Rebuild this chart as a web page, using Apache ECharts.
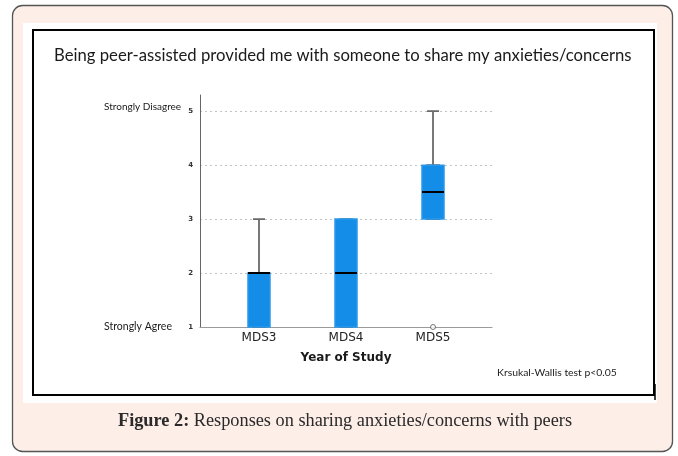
<!DOCTYPE html>
<html>
<head>
<meta charset="utf-8">
<script src="https://cdn.jsdelivr.net/npm/echarts@6/dist/echarts.min.js"></script>
<style>
html,body{margin:0;padding:0;background:#fff;}
#chart{width:678px;height:456px;}
</style>
</head>
<body>
<div id="chart"></div>
<script>
// ---- data ----
const chartTitle = 'Being peer-assisted provided me with someone to share my anxieties/concerns';
const categories = ['MDS3', 'MDS4', 'MDS5'];
const minVals    = [1, 1, 3];
const q1Vals     = [1, 1, 3];
const medianVals = [2, 2, 3.5];
const q3Vals     = [2, 3, 4];
const maxVals    = [3, 3, 5];
const outlierCats = ['MDS5'];
const outlierVals = [1];
const yTicks = [1, 2, 3, 4, 5];
const yEndLabels = { 1: 'Strongly Agree', 5: 'Strongly Disagree' };
const xAxisName = 'Year of Study';
const noteText = 'Krsukal-Wallis test p<0.05';
const captionBold = 'Figure 2:';
const captionText = 'Responses on sharing anxieties/concerns with peers';

// positions of categories on the value x-axis (1-based)
const pos = c => categories.indexOf(c) + 1;
const xPositions = categories.map((c) => pos(c));

const whiskerData = categories.map((c, i) => [xPositions[i], minVals[i], q1Vals[i], medianVals[i], q3Vals[i], maxVals[i]]);
const boxData     = categories.map((c, i) => [xPositions[i], q1Vals[i], q1Vals[i], medianVals[i], q3Vals[i], q3Vals[i]]);
const medianData  = categories.map((c, i) => [xPositions[i], medianVals[i], medianVals[i], medianVals[i], medianVals[i], medianVals[i]]);
const outlierData = outlierCats.map((c, i) => [pos(c), outlierVals[i]]);

const chart = echarts.init(document.getElementById('chart'), null, { renderer: 'canvas' });

const X_MIN = 0.322, X_MAX = 3.678;
const hiddenX = () => ({ type: 'value', min: X_MIN, max: X_MAX, show: false });

const option = {
  animation: false,
  backgroundColor: '#ffffff',
  title: {
    text: chartTitle,
    left: 49,
    top: 42,
    padding: 5,
    textStyle: { fontFamily: 'Lato', fontSize: 16.7, fontWeight: 'normal', color: '#1a1a1a' }
  },
  graphic: [
    { type: 'rect', z: -10, silent: true,
      shape: { x: 12.5, y: 5.5, width: 660, height: 446, r: 10 },
      style: { fill: '#fdeee8', stroke: '#555555', lineWidth: 1.3 } },
    { type: 'rect', z: -9, silent: true,
      shape: { x: 23, y: 23, width: 634, height: 380 },
      style: { fill: '#ffffff' } },
    { type: 'rect', z: -8, silent: true,
      shape: { x: 33, y: 30, width: 621, height: 365 },
      style: { fill: 'none', stroke: '#000000', lineWidth: 2 } },
    { type: 'line', z: -8, silent: true,
      shape: { x1: 655, y1: 384, x2: 655, y2: 400 },
      style: { stroke: '#000000', lineWidth: 1.5 } },
    { type: 'text', silent: true, x: 497, y: 373,
      style: { text: noteText, fontFamily: 'Lato', fontSize: 10.4, fill: '#222', verticalAlign: 'middle', align: 'left' } },
    { type: 'text', silent: true, x: 345, y: 421,
      style: {
        text: '{b|' + captionBold + '} ' + captionText,
        fontFamily: 'Liberation Serif', fontSize: 18.3, fill: '#2a2a2a', align: 'center', verticalAlign: 'middle',
        rich: { b: { fontFamily: 'Liberation Serif', fontSize: 18.3, fontWeight: 'bold', fill: '#2a2a2a' } }
      } }
  ],
  grid: { left: 200, right: 186, top: 95, bottom: 129, containLabel: false },
  xAxis: [
    {
      type: 'value',
      min: X_MIN, max: X_MAX,
      name: xAxisName,
      nameLocation: 'middle',
      nameGap: 25,
      nameTextStyle: { fontFamily: 'DejaVu Sans', fontSize: 12, fontWeight: 'bold', color: '#1a1a1a', verticalAlign: 'top' },
      axisLine: { show: true, lineStyle: { color: '#9a9a9a', width: 1.2 } },
      axisTick: { show: false, customValues: xPositions },
      splitLine: { show: false },
      axisLabel: {
        customValues: xPositions,
        formatter: v => categories[Math.round(v) - 1] || '',
        fontFamily: 'DejaVu Sans', fontSize: 12, color: '#222', margin: 5
      }
    },
    hiddenX(),
    hiddenX()
  ],
  yAxis: {
    type: 'value',
    min: 1, max: 5.3, interval: 1,
    axisLine: { show: true, lineStyle: { color: '#666666', width: 1 } },
    axisTick: { show: false, customValues: yTicks },
    splitLine: { show: true, showMinLine: false, lineStyle: { type: [2, 3], color: '#c4c4c4', width: 1 } },
    axisLabel: {
      customValues: yTicks,
      margin: 7,
      formatter: v => {
        const n = '{n|' + v + '}';
        if (v === 5) return '{t5|' + yEndLabels[5] + '}' + n;
        if (v === 1) return '{t1|' + yEndLabels[1] + '}' + n;
        return n;
      },
      rich: {
        n: { fontFamily: 'DejaVu Sans', fontSize: 7, fontWeight: 'bold', color: '#333', width: 8, align: 'right' },
        t5: { fontFamily: 'Lato', fontSize: 10, color: '#1a1a1a', width: 81, align: 'left', padding: [0, 0, 8, 0] },
        t1: { fontFamily: 'Lato', fontSize: 10.5, color: '#1a1a1a', width: 81, align: 'left', padding: [0, 0, 0, 0] }
      }
    }
  },
  series: [
    {
      name: 'whiskers', type: 'boxplot', silent: true, xAxisIndex: 0,
      boxWidth: [12, 12],
      data: whiskerData,
      itemStyle: { color: '#ffffff', borderColor: '#6a6a6a', borderWidth: 1.8 },
      emphasis: { disabled: true }
    },
    {
      name: 'box', type: 'boxplot', silent: true, xAxisIndex: 1,
      boxWidth: [22, 22],
      data: boxData,
      itemStyle: { color: '#138de8', borderColor: '#2a98ea', borderWidth: 1.5 },
      emphasis: { disabled: true }
    },
    {
      name: 'median', type: 'boxplot', silent: true, xAxisIndex: 2,
      boxWidth: [22, 22],
      data: medianData,
      itemStyle: { color: 'none', borderColor: '#000000', borderWidth: 2 },
      emphasis: { disabled: true }
    },
    {
      name: 'outlier', type: 'scatter', silent: true, xAxisIndex: 0,
      data: outlierData,
      symbol: 'circle', symbolSize: 5,
      itemStyle: { color: '#ffffff', borderColor: '#555555', borderWidth: 1 },
      emphasis: { disabled: true }
    }
  ]
};
chart.setOption(option);
</script>
</body>
</html>
